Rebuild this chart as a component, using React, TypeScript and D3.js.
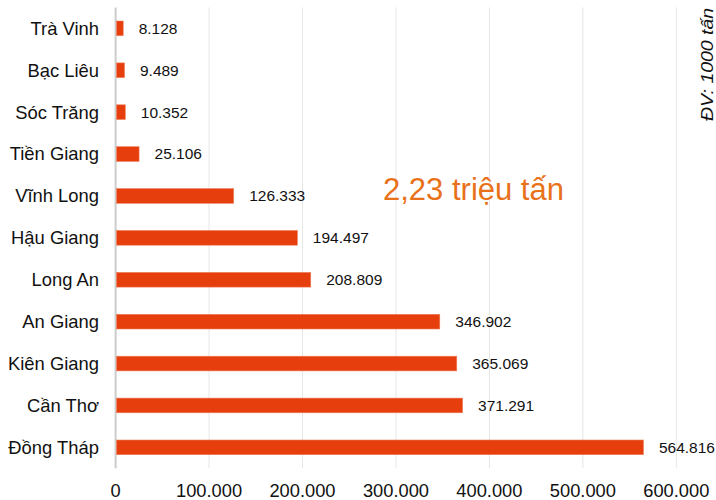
import React from "react";
import * as d3 from "d3";

const categories = ["Trà Vinh", "Bạc Liêu", "Sóc Trăng", "Tiền Giang", "Vĩnh Long", "Hậu Giang", "Long An", "An Giang", "Kiên Giang", "Cần Thơ", "Đồng Tháp"];
const values = [8128, 9489, 10352, 25106, 126333, 194497, 208809, 346902, 365069, 371291, 564816];
const xTicks = [0, 100000, 200000, 300000, 400000, 500000, 600000];
const annotation = "2,23 triệu tấn";
const unitLabel = "ĐV: 1000 tấn";

const W = 716;
const H = 500;
const FONT = "'Liberation Sans', Arial, sans-serif";

const loc = d3.formatLocale({ decimal: ",", thousands: ".", grouping: [3], currency: ["", ""] });
const fmt = loc.format(",d");

export default function App() {
  const x = d3.scaleLinear().domain([0, 600000]).range([115.6, 676.3]);
  const y = d3.scaleBand<string>().domain(categories).range([7.4, 468.3]).paddingInner(0.65).paddingOuter(0.325);
  const bw = y.bandwidth();
  return (
    <svg width={W} height={H} style={{ position: "absolute", left: 0, top: 0, background: "#fff" }} fontFamily={FONT}>
      {xTicks.slice(1).map((t) => (
        <line key={t} x1={x(t)} x2={x(t)} y1={7.4} y2={468.3} stroke="#e6e6e6" strokeWidth={1} />
      ))}
      <line x1={x(0)} x2={x(0)} y1={7.4} y2={468.3} stroke="#cccccc" strokeWidth={2} />
      {categories.map((c, i) => {
        const cy = (y(c) as number) + bw / 2;
        return (
          <g key={c}>
            <rect x={x(0) + 1} y={y(c)} width={x(values[i]) - x(0) - 1} height={bw} fill="#E63E0C" stroke="#EE7A55" strokeWidth={0.6} />
            <text x={99} y={cy} dy="0.35em" textAnchor="end" fontSize={18.4} fill="#111">{c}</text>
            <text x={x(values[i]) + 15.5} y={cy} dy="0.35em" fontSize={15.5} fill="#111">{fmt(values[i])}</text>
          </g>
        );
      })}
      {xTicks.map((t) => (
        <text key={t} x={x(t)} y={497} textAnchor="middle" fontSize={18.3} fill="#111">{fmt(t)}</text>
      ))}
      <text x={383} y={200} fontSize={31} fill="#E8711A">{annotation}</text>
      <text transform="translate(712.5,121) rotate(-90)" fontSize={16} fontStyle="italic" fill="#111" textLength={113} lengthAdjust="spacingAndGlyphs">{unitLabel}</text>
    </svg>
  );
}
